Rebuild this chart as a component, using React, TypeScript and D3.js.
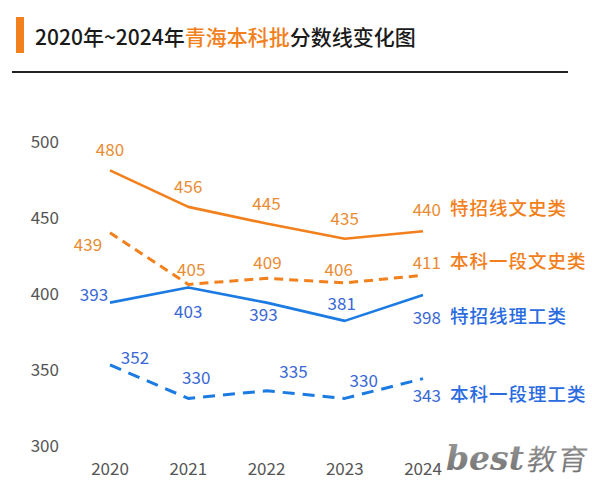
import React from "react";
import * as d3 from "d3";

const years = ["2020", "2021", "2022", "2023", "2024"];
const yTicks = [300, 350, 400, 450, 500];
const wenShiTeZhao = [480, 456, 445, 435, 440];
const wenShiYiDuan = [439, 405, 409, 406, 411];
const liGongTeZhao = [393, 403, 393, 381, 398];
const liGongYiDuan = [352, 330, 335, 330, 343];
const seriesNames = ["特招线文史类", "本科一段文史类", "特招线理工类", "本科一段理工类"];
const titleParts = ["2020年~2024年", "青海本科批", "分数线变化图"];

const ORANGE = "#F2801C";
const ORANGE_LABEL = "#E98C34";
const BLUE = "#1C7BE2";
const BLUE_LABEL = "#3A68D4";
const FONT = "'Noto Sans CJK SC', 'Noto Sans', sans-serif";

// label offsets (dx, dy) relative to each point, for points 0..3; last point label goes before the series name
const series = [
  { values: wenShiTeZhao, name: seriesNames[0], color: ORANGE, labelColor: ORANGE_LABEL, dash: null, width: 2.6,
    offs: [[0, -22], [0, -21], [0, -21], [0, -21]], nameY: 207 },
  { values: wenShiYiDuan, name: seriesNames[1], color: ORANGE, labelColor: ORANGE_LABEL, dash: "9,6", width: 3,
    offs: [[-22, 11], [3, -16], [1, -17], [-6, -14]], nameY: 260 },
  { values: liGongTeZhao, name: seriesNames[2], color: BLUE, labelColor: BLUE_LABEL, dash: null, width: 2.6,
    offs: [[-16, -9], [0, 23], [-3, 11], [-3, -18]], nameY: 315 },
  { values: liGongYiDuan, name: seriesNames[3], color: BLUE, labelColor: BLUE_LABEL, dash: "12,8", width: 3,
    offs: [[25, -8], [8, -22], [27, -20], [19, -19]], nameY: 393 },
];

export default function App() {
  const W = 592, H = 486;
  const x = d3.scalePoint<string>().domain(years).range([110, 423]);
  const y = d3.scaleLinear().domain([300, 500]).range([444, 140]);
  const line = d3.line<number>().x((_, i) => x(years[i])!).y((v) => y(v));
  const nameX = 450;

  return (
    <svg width={W} height={H} style={{ position: "absolute", left: 0, top: 0, background: "#fff" }} fontFamily={FONT}>
      <defs>
        <linearGradient id="wm" x1="0" y1="0" x2="0" y2="1">
          <stop offset="0" stopColor="#9a9a9a" />
          <stop offset="1" stopColor="#6e6e6e" />
        </linearGradient>
      </defs>
      <rect width={W} height={H} fill="#fff" />
      {/* title */}
      <rect x={16} y={17} width={8} height={36} fill={ORANGE} />
      <text x={35} y={36} dominantBaseline="central" fontSize={21} fontWeight={500} fill="#1a1a1a">
        <tspan>{titleParts[0]}</tspan>
        <tspan fill={ORANGE}>{titleParts[1]}</tspan>
        <tspan>{titleParts[2]}</tspan>
      </text>
      <line x1={12} x2={568} y1={72} y2={72} stroke="#222" strokeWidth={2} />

      {/* y ticks */}
      {yTicks.map((t) => (
        <text key={t} x={59} y={y(t)} textAnchor="end" dominantBaseline="central" fontSize={17} fill="#555">
          {t}
        </text>
      ))}
      {/* x ticks */}
      {years.map((yr) => (
        <text key={yr} x={x(yr)} y={467} textAnchor="middle" dominantBaseline="central" fontSize={17} fill="#555">
          {yr}
        </text>
      ))}

      {/* lines */}
      {series.map((s, si) => (
        <path key={si} d={line(s.values) || ""} fill="none" stroke={s.color} strokeWidth={s.width}
          strokeDasharray={s.dash || undefined} strokeLinejoin="round" />
      ))}

      {/* value labels */}
      {series.map((s, si) => (
        <g key={si}>
          {s.values.slice(0, 4).map((v, i) => (
            <text key={i} x={x(years[i])! + s.offs[i][0]} y={y(v) + s.offs[i][1]} textAnchor="middle"
              dominantBaseline="central" fontSize={17} fill={s.labelColor}>
              {v}
            </text>
          ))}
          <text x={nameX - 9} y={s.nameY + 1} textAnchor="end" dominantBaseline="central" fontSize={17} fill={s.labelColor}>
            {s.values[4]}
          </text>
          <text x={nameX} y={s.nameY} dominantBaseline="central" fontSize={18.5} fontWeight={500}
            letterSpacing={1} fill={s.color === ORANGE ? ORANGE : "#2A6BE0"}>
            {s.name}
          </text>
        </g>
      ))}

      {/* watermark */}
      <g transform="translate(446,470)" fill="url(#wm)">
        <text x={0} y={0} fontFamily="'DejaVu Serif', serif" fontStyle="italic" fontWeight={700} fontSize={33}>
          best
        </text>
        <text x={80} y={0} transform="skewX(-8)" fontFamily={FONT} fontSize={29} letterSpacing={2}>
          教育
        </text>
      </g>
    </svg>
  );
}
